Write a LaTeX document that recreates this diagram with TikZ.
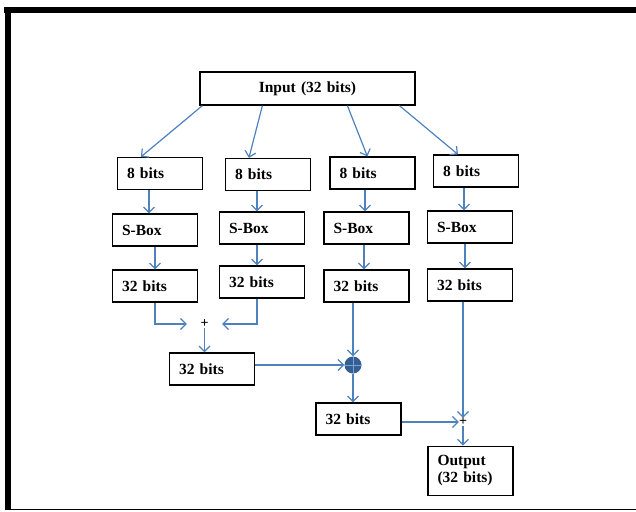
\documentclass[tikz,border=0pt]{standalone}
\usepackage{fontspec}
\setmainfont{Liberation Serif}
\usepackage{xcolor}
\usepackage{tikz}
\usetikzlibrary{arrows.meta,positioning,calc}
\definecolor{linkblue}{RGB}{79,129,189}
\definecolor{xorblue}{RGB}{54,95,145}
\definecolor{xorline}{RGB}{125,163,212}
\tikzset{
  blk/.style={draw, line width=1.2pt, font=\bfseries\fontsize{15.5}{17}\selectfont,
              minimum width=85pt, minimum height=32pt, text width=66pt,
              align=left, inner sep=9.5pt},
  link/.style={-{Straight Barb[length=5.5pt,width=11pt]}, draw=linkblue, line width=1.2pt},
  junc/.style={font=\bfseries\fontsize{14}{14}\selectfont, inner sep=0pt,
               minimum width=6pt, minimum height=8pt},
  xorop/.style={circle, fill=xorblue, minimum size=17pt, inner sep=0pt,
                path picture={\draw[xorline, line width=1pt]
                  (path picture bounding box.north) -- (path picture bounding box.south)
                  (path picture bounding box.west) -- (path picture bounding box.east);}}
}

\begin{document}
\begin{tikzpicture}[x=1pt,y=-1pt]
  \useasboundingbox (0,0) rectangle (636,511);
  % page frame
  \fill (4,7) rectangle (636,13);
  \fill (5,7) rectangle (11,510);
  \draw[line width=1pt] (5,509.5) -- (636,509.5);

  \node[blk, text width=196pt, minimum width=215pt, minimum height=31pt, align=center] (in) at (307.5,88.5) {Input (32 bits)};
  \node[blk] (e1) at (160,173.5) {8 bits};
  \node[blk] (e2) at (268,174.5) {8 bits};
  \node[blk] (e3) at (372.5,173) {8 bits};
  \node[blk] (e4) at (476,171) {8 bits};
  \node[blk] (b1) at (155,230) {S-Box};
  \node[blk] (b2) at (262,228) {S-Box};
  \node[blk] (b3) at (366.5,228) {S-Box};
  \node[blk] (b4) at (470,227) {S-Box};
  \node[blk] (o1) at (155,286) {32 bits};
  \node[blk] (o2) at (262,282) {32 bits};
  \node[blk] (o3) at (366.5,286) {32 bits};
  \node[blk] (o4) at (470,285) {32 bits};

  \draw[link] ([xshift=3pt]in.south west) -- ([xshift=24pt]e1.north west);
  \draw[link] ([xshift=63pt]in.south west) -- ([xshift=24pt]e2.north west);
  \draw[link] ([xshift=148pt]in.south west) -- ([xshift=38pt]e3.north west);
  \draw[link] ([xshift=200pt]in.south west) -- ([xshift=25pt]e4.north west);

  \draw[link] ([xshift=-11pt]e1.south) -- ([xshift=-6pt]b1.north);
  \draw[link] ([xshift=-11pt]e2.south) -- ([xshift=-5pt]b2.north);
  \draw[link] ([xshift=-7.5pt]e3.south) -- ([xshift=-1.5pt]b3.north);
  \draw[link] ([xshift=-12pt]e4.south) -- ([xshift=-6pt]b4.north);
  \draw[link] (b1.south) -- (o1.north);
  \draw[link] ([xshift=-5pt]b2.south) -- ([xshift=-5pt]o2.north);
  \draw[link] ([xshift=-2.5pt]b3.south) -- ([xshift=-2.5pt]o3.north);
  \draw[link] ([xshift=-5pt]b4.south) -- ([xshift=-5pt]o4.north);

  % combining stages
  \node[junc, minimum width=35pt] (pa) at (204.5,324) {+};
  \draw[link] (o1.south) |- (pa.west);
  \draw[link] ([xshift=-5pt]o2.south) |- (pa.east);
  \node[blk] (m) at (212,369) {32 bits};
  \draw[link] (pa.south) -- (pa.south |- m.north);
  \node[xorop] (xr) at (353,365) {};
  \draw[link] (o3.south -| xr) -- (xr.north);
  \draw[link] (m.east |- xr) -- (xr.west);
  \node[blk] (l) at (358.5,419) {32 bits};
  \draw[link] (xr.south) -- (xr.south |- l.north);
  \node[junc] (pb) at (463,422) {+};
  \draw[link] (o4.south -| pb) -- (pb.north);
  \draw[link] (l.east |- pb) -- (pb.west);
  \node[blk, minimum height=46pt] (out) at (470.5,471) {Output\\(32 bits)};
  \draw[link] (pb.south) -- (pb.south |- out.north);
\end{tikzpicture}
\end{document}
